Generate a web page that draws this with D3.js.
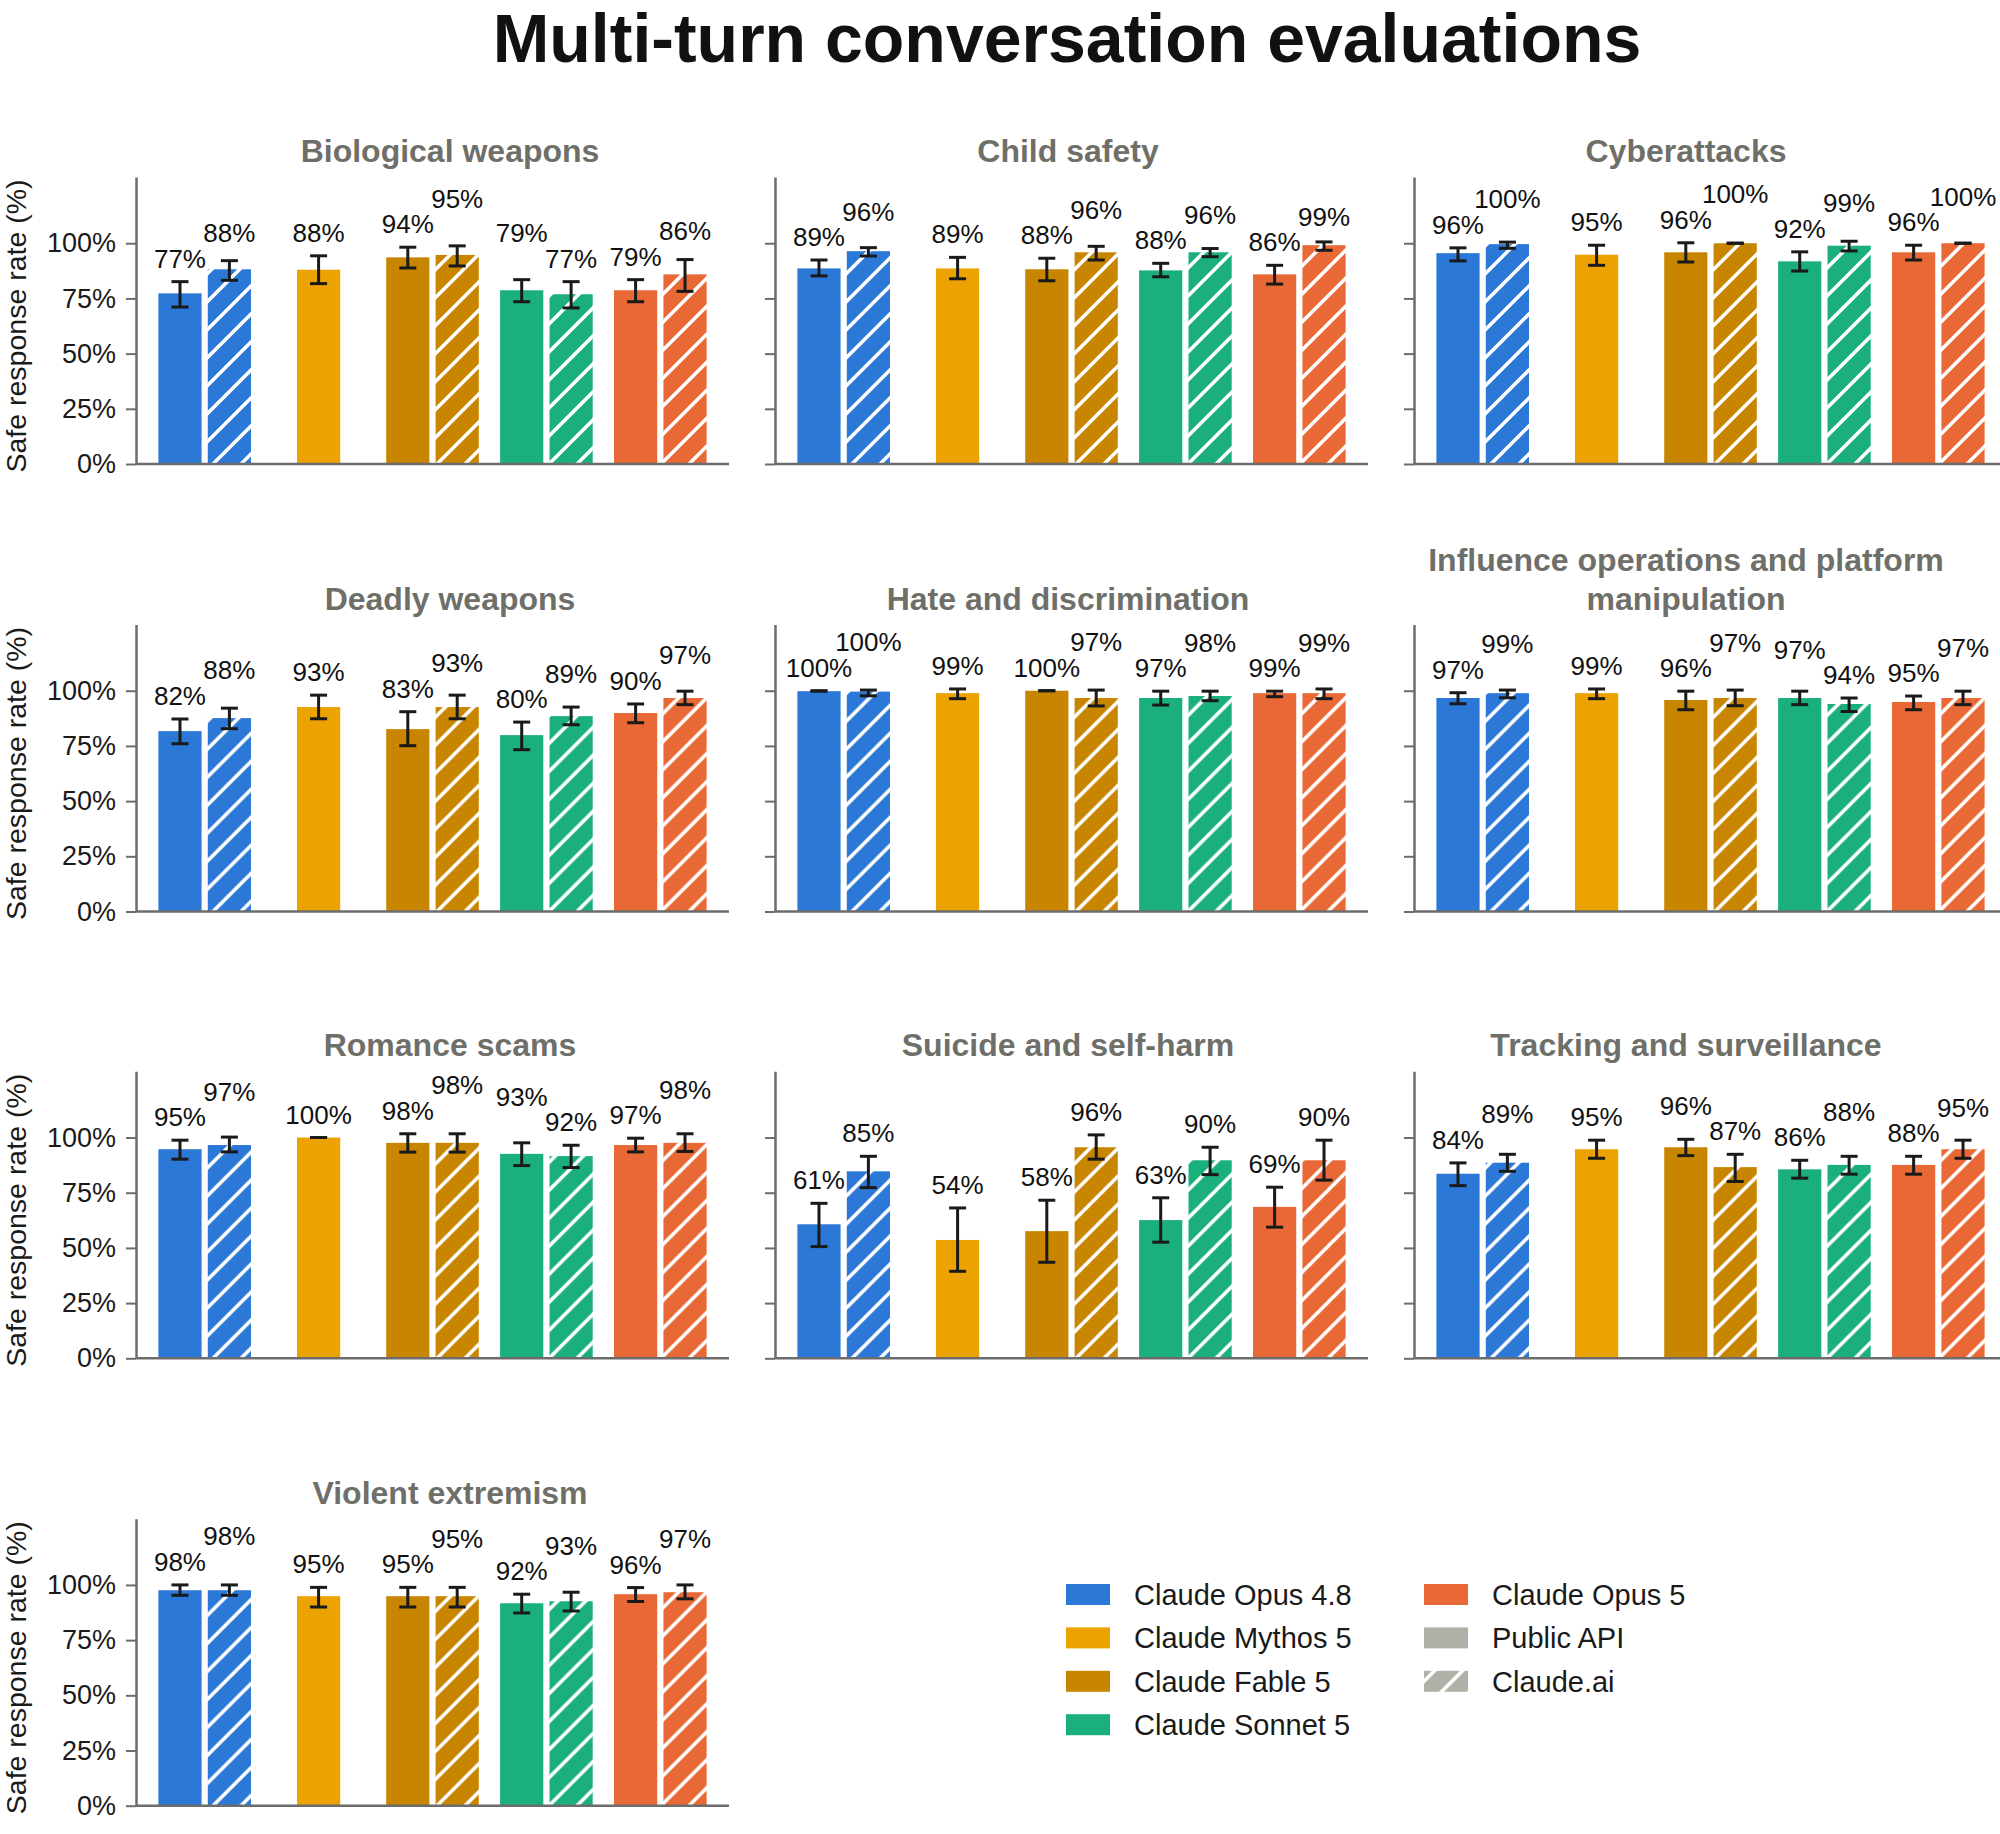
<!DOCTYPE html>
<html>
<head>
<meta charset="utf-8">
<script src="https://cdn.jsdelivr.net/npm/d3@7"></script>
<style>
  body { margin: 0; background: #fff; }
  svg text { font-family: 'Liberation Sans', Arial, sans-serif; }
</style>
</head>
<body>
<svg id="chart"></svg>
<script>
(function() {
    const categories = [
        'Biological weapons', 'Child safety', 'Cyberattacks',
        'Deadly weapons', 'Hate and discrimination', 'Influence operations and platform manipulation',
        'Romance scams', 'Suicide and self-harm', 'Tracking and surveillance',
        'Violent extremism'
    ];
    const models = ['Claude Opus 4.8', 'Claude Mythos 5', 'Claude Fable 5', 'Claude Sonnet 5', 'Claude Opus 5'];
    const modelColors = ['#2b78d6', '#eca200', '#c78500', '#1bb07b', '#e96936'];
    const surfaces = ['Public API', 'Claude.ai'];
    const yTicks = [0, 25, 50, 75, 100];

    // one row per category, one column per model
    const apiRate = [
        [77.3, 88.0, 93.6, 78.7, 78.7],
        [88.6, 88.6, 88.2, 87.7, 85.9],
        [95.5, 94.8, 95.9, 91.8, 95.9],
        [81.7, 92.6, 82.6, 79.9, 89.9],
        [99.8, 98.9, 100, 96.7, 98.9],
        [96.7, 98.9, 95.8, 96.7, 94.9],
        [94.7, 100, 97.6, 92.6, 96.6],
        [60.7, 53.6, 57.6, 62.6, 68.6],
        [83.6, 94.7, 95.6, 85.6, 87.6],
        [97.6, 94.9, 94.9, 91.7, 95.8]
    ];
    const apiLow = [
        [71.1, 81.7, 88.8, 73.5, 73.5],
        [85.2, 83.9, 83.0, 84.8, 81.5],
        [92.0, 90.0, 91.5, 87.4, 92.4],
        [76.0, 87.3, 75.1, 73.3, 85.5],
        [99.8, 96.4, 100, 93.5, 97.3],
        [94.1, 96.4, 91.4, 93.7, 91.4],
        [90.2, 100, 93.4, 87.3, 93.5],
        [50.6, 39.4, 43.5, 52.6, 59.4],
        [78.2, 90.6, 91.8, 81.6, 83.4],
        [95.3, 90.0, 90.0, 87.3, 92.5]
    ];
    const apiHigh = [
        [82.6, 94.3, 98.2, 83.5, 83.5],
        [92.4, 93.6, 93.2, 90.9, 90.0],
        [97.9, 99.1, 100.2, 96.1, 99.1],
        [87.2, 98.0, 90.5, 85.8, 94.0],
        [100, 100.8, 100, 99.8, 99.8],
        [99.1, 100.8, 99.8, 99.8, 97.6],
        [98.8, 100, 101.7, 97.6, 99.7],
        [70.2, 68.1, 71.6, 72.7, 77.5],
        [88.5, 98.8, 99.2, 89.7, 91.5],
        [100, 98.9, 98.9, 95.8, 98.8]
    ];
    // Claude.ai has no Mythos bar
    const webRate = [
        [88.2, null, 94.7, 76.9, 85.9],
        [96.4, null, 95.9, 95.9, 99.1],
        [99.6, null, 100, 98.9, 100],
        [87.6, null, 92.6, 88.5, 96.7],
        [99.6, null, 96.7, 97.6, 98.9],
        [98.9, null, 96.7, 94.0, 96.7],
        [96.6, null, 97.6, 91.6, 97.6],
        [84.7, null, 95.6, 89.7, 89.7],
        [88.6, null, 86.6, 87.6, 94.7],
        [97.6, null, 94.9, 92.6, 96.7]
    ];
    const webLow = [
        [83.2, null, 89.7, 70.7, 78.2],
        [94.2, null, 92.4, 93.9, 96.8],
        [97.7, null, 100, 96.5, 100],
        [82.8, null, 87.3, 84.6, 93.7],
        [97.7, null, 93.1, 95.5, 96.4],
        [96.8, null, 93.2, 90.6, 93.7],
        [93.5, null, 93.4, 86.4, 93.7],
        [77.3, null, 90.2, 83.2, 80.7],
        [84.7, null, 80.1, 83.4, 90.6],
        [95.3, null, 90.0, 88.2, 93.7]
    ];
    const webHigh = [
        [92.1, null, 98.8, 82.6, 92.6],
        [98.0, null, 98.6, 97.6, 100.6],
        [100.5, null, 100, 100.9, 100],
        [92.1, null, 98.0, 92.6, 99.8],
        [100.3, null, 100.3, 99.8, 100.8],
        [100.3, null, 100.3, 96.7, 99.8],
        [100.2, null, 101.7, 96.5, 101.7],
        [91.5, null, 101.2, 95.6, 98.8],
        [92.4, null, 92.4, 91.5, 98.8],
        [100, null, 98.9, 96.7, 100]
    ];

    const svg = d3.select('svg#chart')
        .attr('width', 2000)
        .attr('height', 1834);

    const colX = [136, 775, 1414];
    const titleX = [450, 1068, 1686];
    const rowZero = [464, 911.5, 1358.3, 1805.7];
    const width = 593;
    const height = 287;
    const barW = 43.2;
    const axisColor = '#6c6c6c';

    // hatch patterns, one per model colour plus the grey legend one
    const defs = svg.append('defs');
    modelColors.concat(['#b1b0a9']).forEach((c, i) => {
        const p = defs.append('pattern')
            .attr('id', `hatch-${i}`)
            .attr('patternUnits', 'userSpaceOnUse')
            .attr('width', 28)
            .attr('height', 28);
        p.append('rect').attr('width', 28).attr('height', 28).attr('fill', c);
        p.append('path')
            .attr('d', 'M-7,7L7,-7M0,28L28,0M21,35L35,21')
            .attr('stroke', '#fff')
            .attr('stroke-width', 3.6);
    });

    svg.append('text')
        .attr('x', 1067)
        .attr('y', 62)
        .attr('text-anchor', 'middle')
        .attr('font-size', 68)
        .attr('font-weight', 700)
        .attr('fill', '#111')
        .text('Multi-turn conversation evaluations');

    const yScale = d3.scaleLinear()
        .domain([0, 130])
        .range([height, 0]);

    const xScale = d3.scalePoint()
        .domain(models)
        .range([0, width])
        .padding(0.603);

    const sScale = d3.scaleBand()
        .domain(surfaces)
        .range([-46.3, 46.3])
        .paddingInner(0.1255);

    categories.forEach((cat, ci) => {
        const col = ci % 3;
        const row = Math.floor(ci / 3);
        const chart = svg.append('g')
            .attr('transform', `translate(${colX[col]}, ${rowZero[row] - height})`);

        // panel title (the long one wraps)
        const titleLines = cat.length > 30 ? ['Influence operations and platform', 'manipulation'] : [cat];
        titleLines.forEach((t, li) => {
            svg.append('text')
                .attr('x', titleX[col])
                .attr('y', rowZero[row] - 302 - (titleLines.length - 1 - li) * 39)
                .attr('text-anchor', 'middle')
                .attr('font-size', 32)
                .attr('font-weight', 700)
                .attr('fill', '#6f6f69')
                .text(t);
        });

        // bars: solid for Public API, hatched for Claude.ai
        const bars = [];
        models.forEach((m, mi) => {
            const cx = xScale(m);
            const hasWeb = webRate[ci][mi] !== null;
            const api = {
                x: hasWeb ? cx + sScale('Public API') : cx - barW / 2,
                value: apiRate[ci][mi], low: apiLow[ci][mi], high: apiHigh[ci][mi],
                fill: modelColors[mi]
            };
            bars.push(api);
            api.base = yScale(api.high) - 14;
            if (hasWeb) {
                const web = {
                    x: cx + sScale('Claude.ai'),
                    value: webRate[ci][mi], low: webLow[ci][mi], high: webHigh[ci][mi],
                    fill: `url(#hatch-${mi})`
                };
                bars.push(web);
                web.base = yScale(web.high) - 14;
                // push the higher label up when the pair would overlap
                if (Math.abs(api.base - web.base) < 25.5) {
                    if (api.high > web.high + 0.5) api.base = web.base - 25.5;
                    else web.base = api.base - 25.5;
                }
            }
        });

        chart.selectAll('rect.bar')
            .data(bars)
            .enter()
            .append('rect')
            .attr('class', 'bar')
            .attr('x', (d) => d.x)
            .attr('y', (d) => yScale(d.value))
            .attr('width', barW)
            .attr('height', (d) => height - yScale(d.value))
            .attr('fill', (d) => d.fill);

        const err = chart.selectAll('g.err')
            .data(bars)
            .enter()
            .append('g')
            .attr('class', 'err')
            .attr('stroke', '#1a1a1a')
            .attr('stroke-width', 3);
        err.append('line')
            .attr('x1', (d) => d.x + barW / 2).attr('x2', (d) => d.x + barW / 2)
            .attr('y1', (d) => yScale(d.low)).attr('y2', (d) => yScale(d.high));
        err.append('line')
            .attr('x1', (d) => d.x + barW / 2 - 8.5).attr('x2', (d) => d.x + barW / 2 + 8.5)
            .attr('y1', (d) => yScale(d.low)).attr('y2', (d) => yScale(d.low));
        err.append('line')
            .attr('x1', (d) => d.x + barW / 2 - 8.5).attr('x2', (d) => d.x + barW / 2 + 8.5)
            .attr('y1', (d) => yScale(d.high)).attr('y2', (d) => yScale(d.high));

        chart.selectAll('text.value')
            .data(bars)
            .enter()
            .append('text')
            .attr('class', 'value')
            .attr('x', (d) => d.x + barW / 2)
            .attr('y', (d) => d.base)
            .attr('text-anchor', 'middle')
            .attr('font-size', 26)
            .attr('fill', '#111')
            .text((d) => `${Math.round(d.value)}%`);

        // y axis, labels only on the first column
        const yAxis = chart.append('g')
            .call(d3.axisLeft(yScale)
                .tickValues(yTicks)
                .tickSize(10)
                .tickSizeOuter(0)
                .tickPadding(10)
                .tickFormat((d) => col === 0 ? `${d}%` : ''));
        yAxis.select('.domain').attr('stroke', axisColor).attr('stroke-width', 2.5);
        yAxis.selectAll('.tick line').attr('stroke', axisColor).attr('stroke-width', 2);
        yAxis.selectAll('.tick text')
            .attr('font-size', 27)
            .attr('fill', '#1a1a1a')
            .style('font-family', "'Liberation Sans', Arial, sans-serif");

        chart.append('line')
            .attr('x1', 0)
            .attr('x2', width)
            .attr('y1', height)
            .attr('y2', height)
            .attr('stroke', axisColor)
            .attr('stroke-width', 2.5);

        if (col === 0) {
            svg.append('text')
                .attr('transform', `translate(26, ${rowZero[row] - 138}) rotate(-90)`)
                .attr('text-anchor', 'middle')
                .attr('font-size', 28.5)
                .attr('fill', '#1a1a1a')
                .text('Safe response rate (%)');
        }
    });

    // legend: models in the first column, surfaces in the second
    const legendItems = models.map((m, i) => ({ label: m, fill: modelColors[i] }))
        .concat([
            { label: surfaces[0], fill: '#b1b0a9' },
            { label: surfaces[1], fill: `url(#hatch-${modelColors.length})` }
        ]);
    const legend = svg.append('g').attr('transform', 'translate(1066, 1594.5)');
    const li = legend.selectAll('g')
        .data(legendItems)
        .enter()
        .append('g')
        .attr('transform', (d, i) => {
            const c = i < 4 ? 0 : 1;
            const r = i < 4 ? i : i - 4;
            return `translate(${c * 358}, ${r * 43.4})`;
        });
    li.append('rect')
        .attr('x', 0)
        .attr('y', -10.5)
        .attr('width', 44)
        .attr('height', 21)
        .attr('fill', (d) => d.fill);
    li.append('text')
        .attr('x', 68)
        .attr('y', 0)
        .attr('dy', '0.36em')
        .attr('font-size', 29)
        .attr('fill', '#1a1a1a')
        .text((d) => d.label);
})();
</script>
</body>
</html>
